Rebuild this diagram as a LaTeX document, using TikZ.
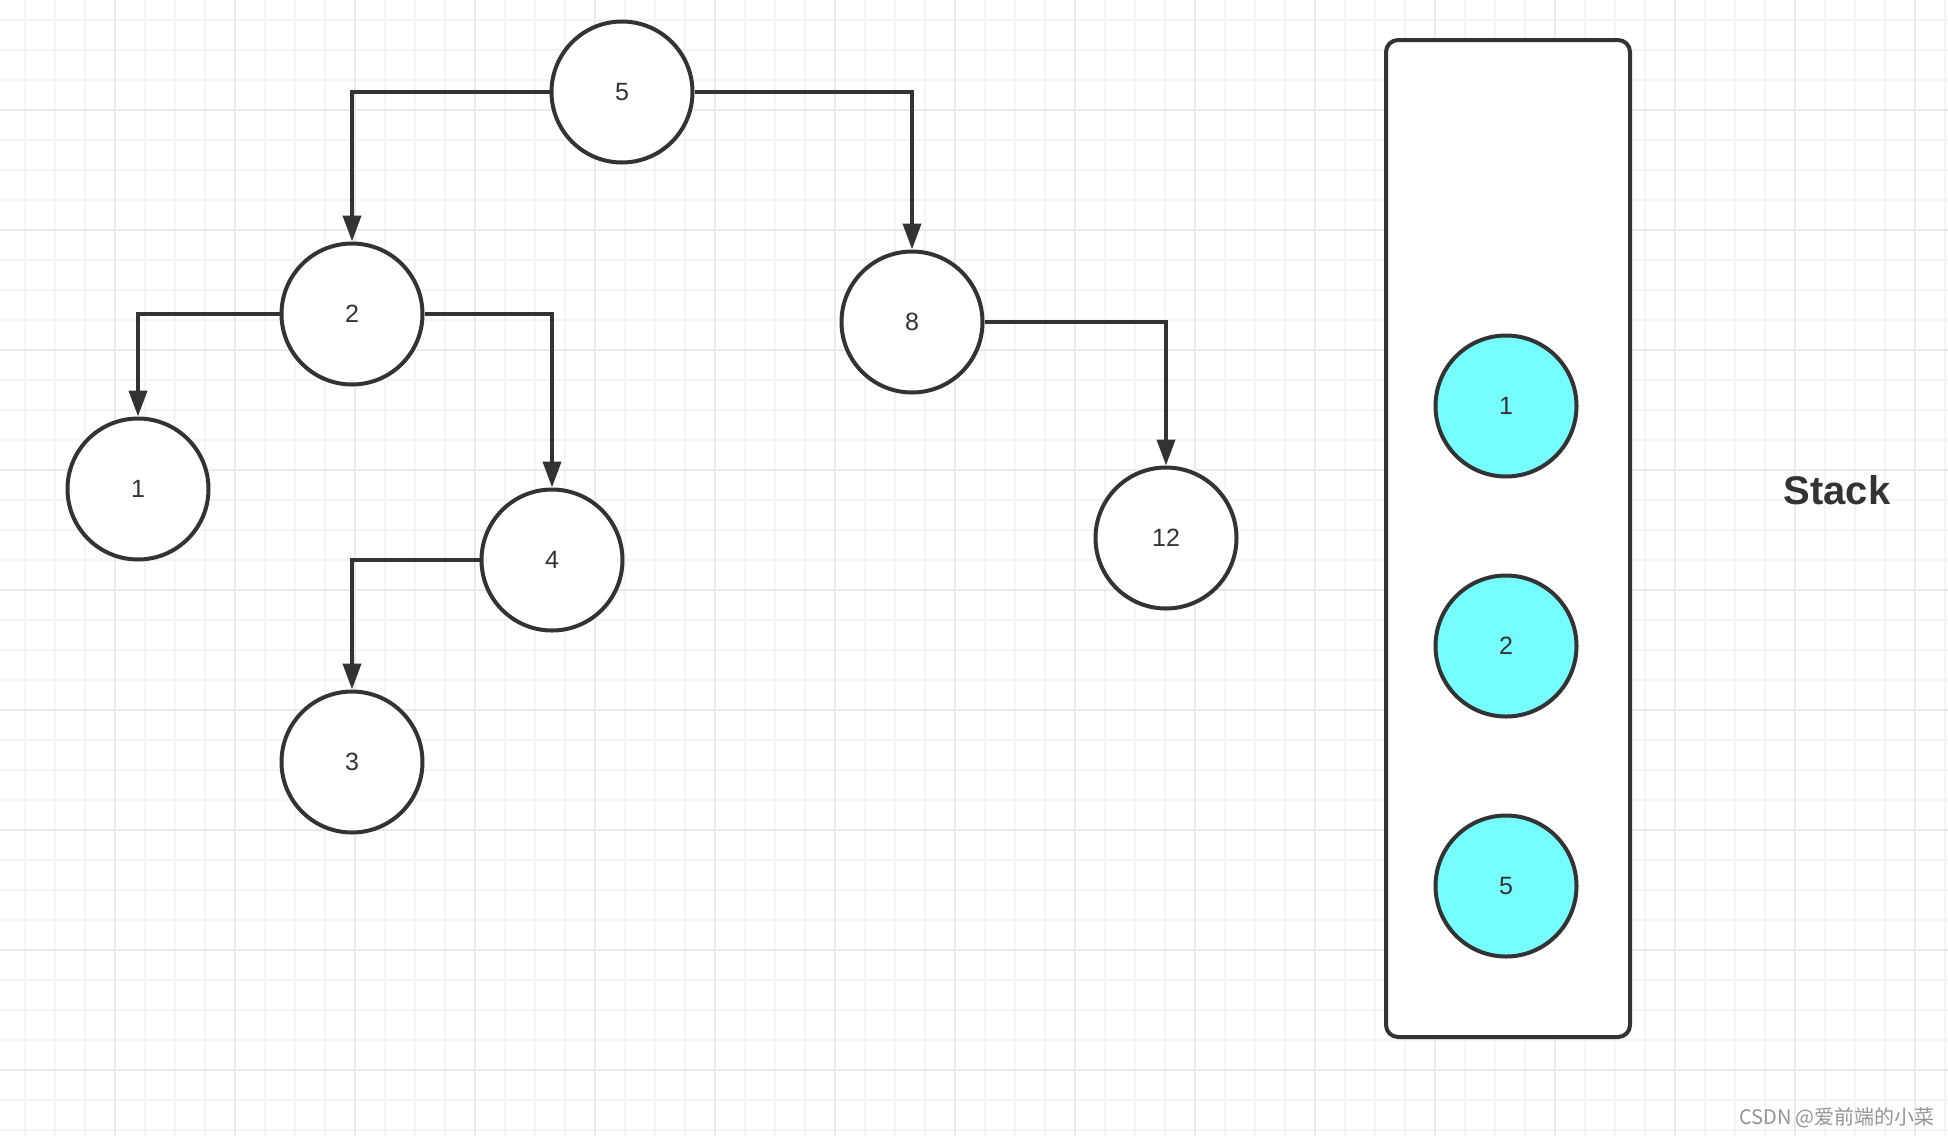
\documentclass[tikz,border=0pt]{standalone}
\usepackage{fontspec}
\setmainfont{Liberation Sans}
\newfontfamily\cjkfont{Noto Sans CJK SC}
\usetikzlibrary{arrows.meta}
\definecolor{ink}{HTML}{333333}
\definecolor{stackfill}{HTML}{76FDFD}
\definecolor{gridminor}{HTML}{F4F4F4}
\definecolor{gridmajor}{HTML}{EAEAEA}
\tikzset{
  treenode/.style={circle,draw=ink,line width=2pt,fill=white,minimum size=70.5pt,inner sep=0pt,text=ink,font=\fontsize{12.5}{14}\selectfont},
  stacknode/.style={treenode,fill=stackfill},
  link/.style={draw=ink,line width=2pt,-{Triangle[width=9pt,length=13pt]}},
}
\begin{document}
\begin{tikzpicture}[x=0.5pt,y=-0.5pt]
        \useasboundingbox (0,0) rectangle (1948,1136);
        \fill[white] (0,0) rectangle (1948,1136);
        % grid
        \foreach \x in {25,55,...,1945} \draw[gridminor,line width=1pt] (\x,0)--(\x,1136);
        \foreach \y in {20,50,...,1135} \draw[gridminor,line width=1pt] (0,\y)--(1948,\y);
        \foreach \x in {115,235,...,1945} \draw[gridmajor,line width=1.2pt] (\x,0)--(\x,1136);
        \foreach \y in {110,230,...,1135} \draw[gridmajor,line width=1.2pt] (0,\y)--(1948,\y);
        % tree
        \node[treenode] (t5) at (622,92){5};
        \node[treenode] (t2) at (352,314){2};
        \node[treenode] (t8) at (912,322){8};
        \node[treenode] (t1) at (138,489){1};
        \node[treenode] (t4) at (552,560){4};
        \node[treenode] (t12) at (1166,538){12};
        \node[treenode] (t3) at (352,762){3};
        \draw[link] (t5.west) -| (t2.north);
        \draw[link] (t5.east) -| (t8.north);
        \draw[link] (t2.west) -| (t1.north);
        \draw[link] (t2.east) -| (t4.north);
        \draw[link] (t8.east) -| (t12.north);
        \draw[link] (t4.west) -| (t3.north);
        % stack
        \draw[ink,line width=2pt,fill=white,rounded corners=6pt] (1386,40) rectangle (1630,1037);
        \node[stacknode] (s1) at (1506,406){1};
        \node[stacknode] (s2) at (1506,646){2};
        \node[stacknode] (s5) at (1506,886){5};
        \node[text=ink,font=\fontsize{20}{24}\selectfont\bfseries] (stacklabel) at (1837,490){Stack};
        \node[text=black!42,font=\cjkfont\fontsize{10}{12}\selectfont] (mark) at (1837,1118){CSDN @爱前端的小菜};
    \end{tikzpicture}
\end{document}
